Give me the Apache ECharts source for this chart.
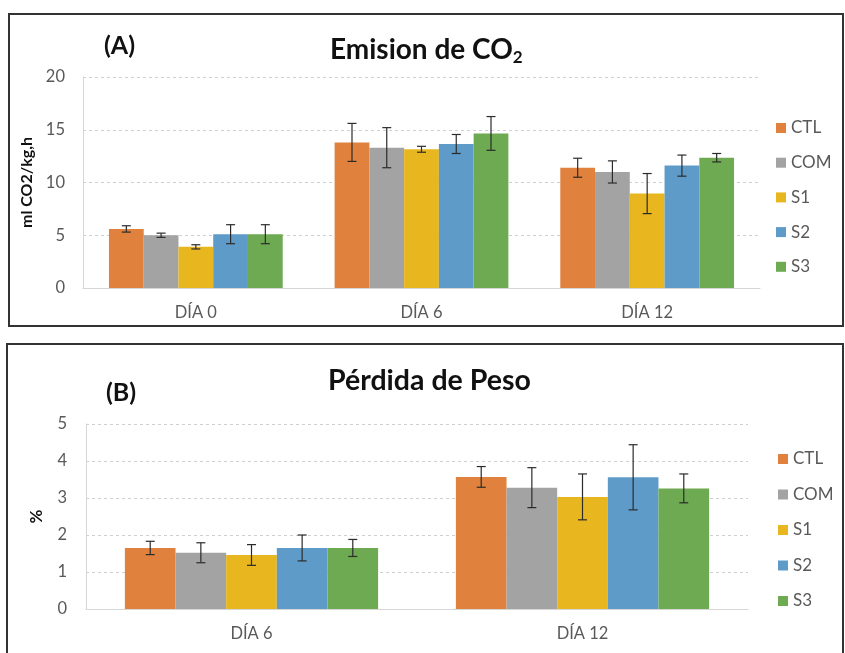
<!DOCTYPE html>
<html><head><meta charset="utf-8">
<script src="https://cdn.jsdelivr.net/npm/echarts@6/dist/echarts.min.js"></script>
<style>html,body{margin:0;padding:0;background:#fff}#c{width:845px;height:653px}</style>
</head><body><div id="c"></div>
<script>
const seriesNames = ['CTL', 'COM', 'S1', 'S2', 'S3'];
const seriesColors = ['#E0823D', '#A3A3A3', '#E8B720', '#5E9BC9', '#6EAA52'];

// Panel A: Emision de CO2 (ml CO2/kg,h)
const catsA = ['DÍA 0', 'DÍA 6', 'DÍA 12'];
const co2CTL = [5.6, 13.8, 11.4];
const co2COM = [5.0, 13.3, 11.0];
const co2S1 = [3.9, 13.15, 8.95];
const co2S2 = [5.1, 13.65, 11.6];
const co2S3 = [5.1, 14.65, 12.35];
const co2CTLErr = [0.3, 1.8, 0.9];
const co2COMErr = [0.2, 1.9, 1.05];
const co2S1Err = [0.2, 0.28, 1.9];
const co2S2Err = [0.9, 0.9, 1.0];
const co2S3Err = [0.9, 1.6, 0.4];
const ticksA = [0, 5, 10, 15, 20];

// Panel B: Pérdida de Peso (%)
const catsB = ['DÍA 6', 'DÍA 12'];
const pesoCTL = [1.65, 3.57];
const pesoCOM = [1.52, 3.28];
const pesoS1 = [1.46, 3.03];
const pesoS2 = [1.65, 3.56];
const pesoS3 = [1.65, 3.26];
const pesoCTLErr = [0.18, 0.28];
const pesoCOMErr = [0.27, 0.54];
const pesoS1Err = [0.28, 0.62];
const pesoS2Err = [0.35, 0.88];
const pesoS3Err = [0.23, 0.39];
const ticksB = [0, 1, 2, 3, 4, 5];

const valsA = [co2CTL, co2COM, co2S1, co2S2, co2S3];
const errsA = [co2CTLErr, co2COMErr, co2S1Err, co2S2Err, co2S3Err];
const valsB = [pesoCTL, pesoCOM, pesoS1, pesoS2, pesoS3];
const errsB = [pesoCTLErr, pesoCOMErr, pesoS1Err, pesoS2Err, pesoS3Err];

const FONT = 'Lato';
const GAP_A = 0.23, GAP_B = 0.235;

function errData(vals, errs) {
  const out = [];
  vals.forEach((arr, s) => arr.forEach((v, c) => out.push([c, v, errs[s][c], s])));
  return out;
}
function errRender(gap) {
  return function (params, api) {
    const c = api.value(0), v = api.value(1), e = api.value(2), s = api.value(3);
    const center = api.coord([c, v]);
    const band = api.size([1, 0])[0];
    const groupW = band * (1 - gap);
    const bw = groupW / 5;
    const x = center[0] - groupW / 2 + bw * (s + 0.5);
    const yT = api.coord([c, v + e])[1];
    const yB = api.coord([c, v - e])[1];
    const st = { stroke: '#2b2b2b', lineWidth: 1.2 };
    const h = 4.5;
    return { type: 'group', children: [
      { type: 'line', shape: { x1: x, y1: yT, x2: x, y2: yB }, style: st },
      { type: 'line', shape: { x1: x - h, y1: yT, x2: x + h, y2: yT }, style: st },
      { type: 'line', shape: { x1: x - h, y1: yB, x2: x + h, y2: yB }, style: st }
    ]};
  };
}

const gridLine = { show: true, lineStyle: { color: '#CFCFCF', type: [3, 3], width: 1 } };
const axisLine = { show: true, lineStyle: { color: '#D6D6D6', width: 1 } };
const labelStyle = { color: '#595959', fontSize: 16.5, fontFamily: FONT };
const xLabelStyle = { color: '#595959', fontSize: 16.5, fontFamily: FONT, margin: 16 };

const series = [];
seriesNames.forEach((n, i) => {
  series.push({ name: n, type: 'bar', xAxisIndex: 0, yAxisIndex: 0, data: valsA[i],
    itemStyle: { color: seriesColors[i] }, barGap: '0%', barCategoryGap: (GAP_A * 100) + '%' });
});
seriesNames.forEach((n, i) => {
  series.push({ name: n, type: 'bar', xAxisIndex: 1, yAxisIndex: 1, data: valsB[i],
    itemStyle: { color: seriesColors[i] }, barGap: '0%', barCategoryGap: (GAP_B * 100) + '%' });
});
series.push({ name: 'errA', type: 'custom', xAxisIndex: 0, yAxisIndex: 0, z: 10,
  data: errData(valsA, errsA), encode: { x: 0, y: 1 }, renderItem: errRender(GAP_A) });
series.push({ name: 'errB', type: 'custom', xAxisIndex: 1, yAxisIndex: 1, z: 10,
  data: errData(valsB, errsB), encode: { x: 0, y: 1 }, renderItem: errRender(GAP_B) });

const chart = echarts.init(document.getElementById('c'), null, { renderer: 'canvas' });
chart.setOption({
  backgroundColor: '#fff',
  animation: false,
  textStyle: { fontFamily: FONT },
  title: [
    { text: '(A)', left: 104, top: 33, padding: 0,
      textStyle: { fontSize: 25, fontWeight: 'bold', color: '#111', fontFamily: FONT, lineHeight: 26 } },
    { text: '{a|Emision de CO}{s|2}', left: 330, top: 33, padding: 0,
      textStyle: { rich: {
        a: { fontSize: 28, fontWeight: 'bold', color: '#111', fontFamily: FONT, lineHeight: 33 },
        s: { fontSize: 17, fontWeight: 'bold', color: '#111', fontFamily: FONT, lineHeight: 14, verticalAlign: 'bottom' }
      } } },
    { text: '(B)', left: 106, top: 380, padding: 0,
      textStyle: { fontSize: 25, fontWeight: 'bold', color: '#111', fontFamily: FONT, lineHeight: 26 } },
    { text: 'Pérdida de Peso', left: 328, top: 366, padding: 0,
      textStyle: { fontSize: 28.5, fontWeight: 'bold', color: '#111', fontFamily: FONT, lineHeight: 30 } }
  ],
  legend: [
    { data: seriesNames, orient: 'vertical', left: 776, top: 119.5, icon: 'rect',
      itemWidth: 10, itemHeight: 10, itemGap: 17.7, padding: 0,
      textStyle: { color: '#595959', fontSize: 17, fontFamily: FONT, lineHeight: 17 } },
    { data: seriesNames, orient: 'vertical', left: 778, top: 450.5, icon: 'rect',
      itemWidth: 10, itemHeight: 10, itemGap: 18.5, padding: 0,
      textStyle: { color: '#595959', fontSize: 17, fontFamily: FONT, lineHeight: 17 } }
  ],
  grid: [
    { left: 83, right: 85, top: 77, bottom: 365, containLabel: false },
    { left: 86, right: 97, top: 424, bottom: 44, containLabel: false }
  ],
  xAxis: [
    { type: 'category', gridIndex: 0, data: catsA, axisTick: { show: false }, axisLine: axisLine,
      axisLabel: xLabelStyle },
    { type: 'category', gridIndex: 1, data: catsB, axisTick: { show: false }, axisLine: axisLine,
      axisLabel: xLabelStyle }
  ],
  yAxis: [
    { type: 'value', gridIndex: 0, min: ticksA[0], max: ticksA[ticksA.length - 1], interval: 5,
      axisLine: axisLine, axisTick: { show: false }, splitLine: gridLine,
      axisLabel: Object.assign({ margin: 18 }, labelStyle),
      name: 'ml CO2/kg,h', nameLocation: 'middle', nameGap: 45, nameRotate: 90,
      nameTextStyle: { fontSize: 16, fontWeight: 'bold', color: '#111', fontFamily: FONT } },
    { type: 'value', gridIndex: 1, min: ticksB[0], max: ticksB[ticksB.length - 1], interval: 1,
      axisLine: axisLine, axisTick: { show: false }, splitLine: gridLine,
      axisLabel: Object.assign({ margin: 19 }, labelStyle),
      name: '%', nameLocation: 'middle', nameGap: 41, nameRotate: 90,
      nameTextStyle: { fontSize: 17, fontWeight: 'bold', color: '#111', fontFamily: FONT } }
  ],
  graphic: [
    { type: 'rect', shape: { x: 9, y: 14, width: 834, height: 312 }, z: 100,
      style: { fill: 'none', stroke: '#333', lineWidth: 2 } },
    { type: 'rect', shape: { x: 7, y: 344, width: 836, height: 320 }, z: 100,
      style: { fill: 'none', stroke: '#333', lineWidth: 2 } }
  ],
  series: series
});
</script></body></html>
